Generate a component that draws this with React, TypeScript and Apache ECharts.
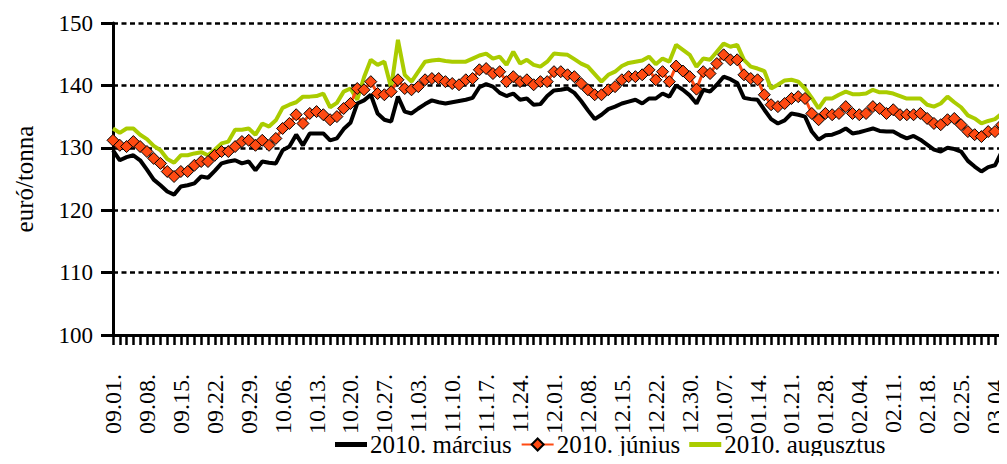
import React, { useEffect, useRef } from "react";
import * as echarts from "echarts";

const tickLabels = [
  "09.01.", "09.08.", "09.15.", "09.22.", "09.29.", "10.06.", "10.13.", "10.20.", "10.27.",
  "11.03.", "11.10.", "11.17.", "11.24.", "12.01.", "12.08.", "12.15.", "12.22.", "12.30.",
  "01.07.", "01.14.", "01.21.", "01.28.", "02.04.", "02.11.", "02.18.", "02.25.", "03.04.",
];

const marchSeries = [
  129.6, 128.0, 128.5, 128.8, 128.0, 126.5, 124.9, 124.0, 123.0, 122.5,
  123.8, 124.0, 124.3, 125.4, 125.2, 126.3, 127.5, 127.8, 128.0, 127.5,
  127.8, 126.4, 127.8, 127.6, 127.5, 129.6, 130.2, 132.1, 130.4, 132.3,
  132.3, 132.3, 131.2, 131.5, 133.0, 134.0, 137.1, 137.6, 138.5, 135.5,
  134.5, 134.2, 138.2, 135.8, 135.5, 136.3, 137.0, 137.6, 137.3, 137.1,
  137.3, 137.5, 137.7, 138.0, 139.7, 140.2, 139.8, 138.8, 138.3, 138.7,
  137.7, 137.9, 136.9, 137.0, 138.3, 139.2, 139.3, 139.5, 138.8, 137.5,
  136.0, 134.6, 135.3, 136.2, 136.6, 137.1, 137.4, 137.7, 137.1, 137.9,
  137.9, 138.7, 138.2, 140.0, 139.3, 138.4, 137.1, 139.3, 139.0, 140.1,
  141.4, 141.0, 140.4, 138.0, 137.8, 137.7, 136.1, 134.6, 133.9, 134.4,
  135.5, 135.3, 135.0, 132.6, 131.3, 132.0, 132.1, 132.5, 133.1, 132.3,
  132.5, 132.8, 133.1, 132.7, 132.6, 132.6, 132.0, 131.5, 131.9, 131.3,
  130.5, 129.7, 129.4, 130.0, 129.8, 129.4, 127.9, 127.0, 126.2, 126.9,
  127.2, 129.4,
];

const juneSeries = [
  131.2, 130.4, 130.2, 131.0, 130.2, 129.4, 128.3, 127.5, 126.2, 125.4,
  126.2, 126.2, 127.2, 127.8, 127.8, 128.8, 129.4, 129.4, 130.2, 131.0,
  131.2, 130.4, 131.2, 130.4, 131.5, 133.1, 133.9, 135.3, 133.9, 135.5,
  135.8, 135.3, 134.5, 135.0, 136.3, 137.1, 139.5, 139.3, 140.6, 138.7,
  138.5, 139.0, 140.9, 139.5, 139.3, 139.8, 140.9, 141.1, 141.1, 140.6,
  140.3, 140.1, 140.9, 141.1, 142.5, 142.7, 141.9, 142.2, 140.6, 141.4,
  140.6, 140.9, 140.1, 140.6, 140.6, 142.2, 142.2, 141.7, 141.4, 140.3,
  139.3, 138.5, 138.5, 139.3, 139.8, 140.9, 141.4, 141.4, 141.7, 142.5,
  140.9, 142.2, 140.6, 143.1, 142.3, 141.4, 139.4, 142.2, 141.9, 143.5,
  144.9, 144.1, 144.1, 141.7, 141.1, 140.9, 138.5, 136.9, 136.6, 137.1,
  137.9, 138.2, 137.9, 135.5, 134.5, 135.5, 135.3, 135.5, 136.6, 135.5,
  135.3, 135.5, 136.6, 136.3, 135.5, 136.1, 135.3, 135.3, 135.3, 135.5,
  134.7, 133.9, 133.7, 134.5, 134.7, 133.7, 132.6, 132.1, 131.8, 132.6,
  132.6, 133.7,
];

const augustSeries = [
  133.1, 132.4, 133.1, 133.1, 132.1, 131.4, 130.3, 129.6, 128.2, 127.6,
  128.8, 128.8, 129.1, 129.3, 128.8, 129.7, 130.7, 131.0, 132.9, 132.9,
  133.1, 132.1, 133.9, 133.4, 134.4, 136.4, 136.9, 137.3, 138.2, 138.2,
  138.3, 138.7, 136.5, 137.2, 139.0, 139.5, 137.7, 141.3, 144.1, 143.3,
  143.8, 139.6, 147.3, 141.7, 140.6, 142.2, 143.8, 144.0, 144.1, 143.9,
  143.8, 143.8, 143.8, 144.3, 144.8, 145.1, 144.3, 144.6, 143.3, 145.4,
  143.5, 144.1, 143.3, 143.0, 143.8, 145.1, 145.0, 144.9, 144.2, 143.5,
  143.0, 141.8, 140.6, 141.7, 142.2, 143.1, 143.6, 143.8, 144.0, 144.6,
  143.4, 144.3, 143.8, 146.5, 145.7, 144.9, 143.0, 144.3, 144.1, 145.4,
  146.7, 146.2, 146.5, 144.1, 143.0, 142.7, 142.3, 139.5, 140.1, 140.8,
  140.9, 140.6, 139.5, 138.0, 136.3, 137.9, 137.9, 138.5, 139.0, 138.6,
  138.6, 138.7, 139.3, 138.9, 138.9, 138.7, 138.3, 137.9, 137.9, 137.9,
  136.9, 136.6, 137.1, 138.2, 137.3, 136.5, 135.2, 134.7, 133.9, 134.3,
  134.6, 135.5,
];

const seriesNames = ["2010. március", "2010. június", "2010. augusztus"];
const yAxisName = "euró/tonna";
const LABEL_STEP = 5;

const FONT = "Liberation Serif";
const BAR_ICON = "path://M0,0M0,5L32,5L32,10L0,10ZM32,15";

export default function App() {
  const ref = useRef<HTMLDivElement>(null);

  useEffect(() => {
    if (!ref.current) return;
    const chart = echarts.init(ref.current, undefined, { renderer: "svg" });
    const categories = marchSeries.map((_, i) => String(i));
    const txt = (size: number) => ({ fontFamily: FONT, fontSize: size, color: "#000", fontWeight: "normal" as const });

    chart.setOption({
      animation: false,
      backgroundColor: "#ffffff",
      textStyle: txt(22),
      grid: { left: 113, right: 0, top: 23, bottom: 129, containLabel: false },
      legend: {
        left: 330,
        top: 427,
        itemGap: 9,
        itemWidth: 32,
        itemHeight: 15,
        textStyle: { ...txt(25), padding: [0, 0, 0, -2] },
        data: [
          { name: seriesNames[0], icon: BAR_ICON },
          { name: seriesNames[1] },
          { name: seriesNames[2], icon: BAR_ICON },
        ],
      },
      xAxis: {
        type: "category",
        boundaryGap: false,
        data: categories,
        axisLine: { show: true, lineStyle: { color: "#000", width: 3 } },
        axisTick: { show: true, interval: 0, length: 10, lineStyle: { color: "#000", width: 2.5 } },
        axisLabel: {
          ...txt(24),
          interval: LABEL_STEP - 1,
          rotate: 90,
          margin: 39,
          formatter: (_v: string, idx: number) =>
            idx % LABEL_STEP === 0 ? tickLabels[idx / LABEL_STEP] ?? "" : "",
        },
        splitLine: { show: false },
      },
      yAxis: {
        type: "value",
        min: 100,
        max: 150,
        interval: 10,
        name: yAxisName,
        nameLocation: "middle",
        nameGap: 76,
        nameTextStyle: txt(25),
        axisLine: { show: true, lineStyle: { color: "#000", width: 3 } },
        axisTick: { show: true, length: 12, lineStyle: { color: "#000", width: 3 } },
        axisLabel: { ...txt(23), margin: 20 },
        splitLine: { show: true, lineStyle: { color: "#000", width: 2.5, type: [5, 3.5] } },
      },
      series: [
        {
          name: seriesNames[0],
          type: "line",
          data: marchSeries,
          showSymbol: false,
          symbol: "none",
          lineStyle: { color: "#000", width: 4 },
          itemStyle: { color: "#000" },
          z: 2,
        },
        {
          name: seriesNames[1],
          type: "line",
          data: juneSeries,
          symbol: "diamond",
          symbolSize: 12,
          showSymbol: true,
          showAllSymbol: true,
          lineStyle: { color: "#FF4A12", width: 3 },
          itemStyle: { color: "#FF4A12", borderColor: "#000", borderWidth: 1 },
          z: 4,
        },
        {
          name: seriesNames[2],
          type: "line",
          data: augustSeries,
          showSymbol: false,
          symbol: "none",
          lineStyle: { color: "#AACC00", width: 4 },
          itemStyle: { color: "#AACC00" },
          z: 3,
        },
      ],
    });

    return () => chart.dispose();
  }, []);

  return <div ref={ref} style={{ width: 1007, height: 464, margin: -8 }} />;
}
